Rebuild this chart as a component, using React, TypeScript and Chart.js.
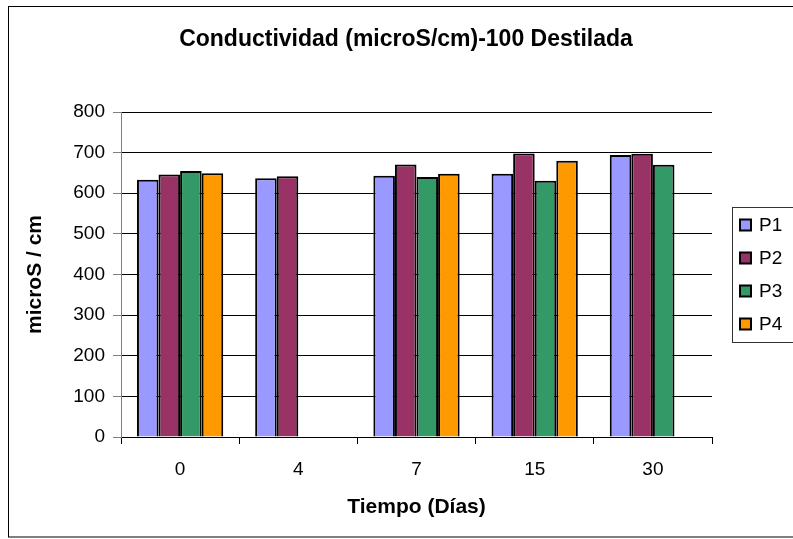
import React, { useEffect, useRef } from "react";
import { Chart, registerables } from "chart.js";

Chart.register(...registerables);

// Days of measurement (x categories)
const dias = ["0", "4", "7", "15", "30"];

// Conductivity readings (microS/cm) per sample
const p1 = [633, 637, 643, 648, 694];
const p2 = [646, 642, 671, 698, 697];
const p3 = [655, null, 640, 631, 670];
const p4 = [649, null, 648, 680, null];

const seriesNames = ["P1", "P2", "P3", "P4"];
const seriesColors = ["#9999FF", "#993366", "#339966", "#FF9900"];

const chartTitle = "Conductividad (microS/cm)-100 Destilada";

const FONT = "'Liberation Sans', Arial, sans-serif";

// Outer frame, centred title and a boxed legend on the right side
const framePlugin = {
  id: "frameAndLegend",
  afterDraw(chart: any) {
    const ctx = chart.ctx;
    ctx.save();
    ctx.strokeStyle = "#000";
    ctx.lineWidth = 1;
    ctx.strokeRect(8.5, 6.5, 800, 530.5);

    // title
    ctx.fillStyle = "#000";
    ctx.font = `bold 23px ${FONT}`;
    ctx.textAlign = "center";
    ctx.textBaseline = "middle";
    ctx.fillText(chartTitle, 406, 40);

    // legend box
    ctx.strokeStyle = "#333";
    ctx.lineWidth = 1;
    ctx.strokeRect(732.5, 207.5, 80, 135);
    const startY = 225;
    const step = 33;
    ctx.font = `19px ${FONT}`;
    ctx.textBaseline = "middle";
    ctx.textAlign = "left";
    chart.data.datasets.forEach((ds: any, i: number) => {
      const cy = startY + i * step;
      ctx.fillStyle = ds.backgroundColor;
      ctx.fillRect(740, cy - 5.5, 11, 11);
      ctx.strokeStyle = "#000";
      ctx.lineWidth = 2;
      ctx.strokeRect(740, cy - 5.5, 11, 11);
      ctx.fillStyle = "#000";
      ctx.fillText(ds.label, 759, cy + 1);
    });
    ctx.restore();
  },
};

export default function App() {
  const canvasRef = useRef<HTMLCanvasElement | null>(null);

  useEffect(() => {
    if (!canvasRef.current) return;
    const values = [p1, p2, p3, p4];
    const chart = new Chart(canvasRef.current, {
      type: "bar",
      data: {
        labels: dias,
        datasets: values.map((v, i) => ({
          label: seriesNames[i],
          data: v,
          backgroundColor: seriesColors[i],
          borderColor: "#000",
          borderWidth: 2,
          categoryPercentage: 0.73,
          barPercentage: 1,
        })),
      },
      options: {
        responsive: false,
        animation: false,
        devicePixelRatio: 1,
        layout: { padding: { left: 0, right: 81, top: 112, bottom: 0 } },
        plugins: {
          legend: { display: false },
          tooltip: { enabled: false },
          title: { display: false },
        },
        scales: {
          x: {
            type: "category",
            offset: true,
            afterFit: (scale: any) => {
              scale.height = 102;
            },
            grid: {
              offset: true,
              drawOnChartArea: false,
              drawTicks: true,
              tickLength: 7,
              tickColor: "#000",
            },
            border: { color: "#000", width: 1 },
            ticks: {
              color: "#000",
              font: { family: FONT, size: 19 },
              padding: 14,
            },
            title: {
              display: true,
              text: "Tiempo (Días)",
              color: "#000",
              font: { family: FONT, size: 21, weight: "bold", lineHeight: 1.2 },
              padding: { top: 0, bottom: 19 },
            },
          },
          y: {
            min: 0,
            max: 800,
            afterFit: (scale: any) => {
              scale.width = 121;
            },
            ticks: {
              stepSize: 100,
              color: "#000",
              font: { family: FONT, size: 19 },
              padding: 8,
            },
            grid: {
              color: "#000",
              lineWidth: 1,
              tickLength: 8,
              tickColor: "#808080",
            },
            border: { color: "#808080", width: 1 },
            title: {
              display: true,
              text: "microS / cm",
              color: "#000",
              font: { family: FONT, size: 21, weight: "bold", lineHeight: 1.2 },
              padding: { top: 23, bottom: 0 },
            },
          },
        },
      },
      plugins: [framePlugin],
    } as any);
    return () => chart.destroy();
  }, []);

  return (
    <div style={{ position: "fixed", left: 0, top: 0, width: 793, height: 539, background: "#fff" }}>
      <canvas ref={canvasRef} width={793} height={539} style={{ width: 793, height: 539 }} />
    </div>
  );
}
